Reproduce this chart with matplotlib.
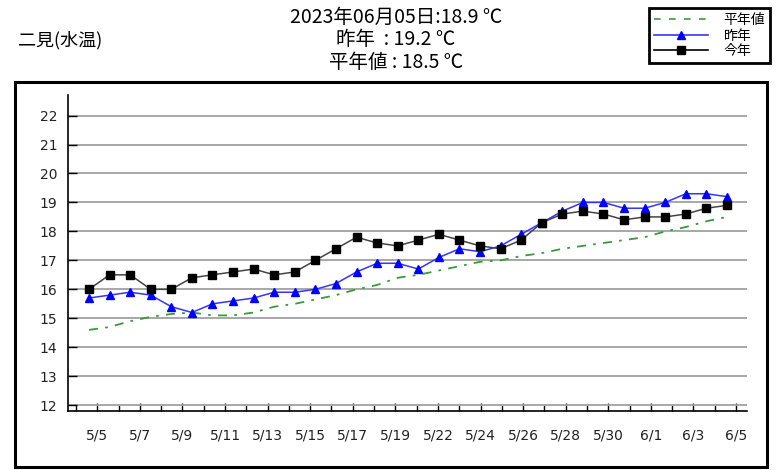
import matplotlib
matplotlib.use('Agg')
import matplotlib.pyplot as plt
from matplotlib.lines import Line2D
from matplotlib.patches import Rectangle
import numpy as np

plt.rcParams['font.family'] = ['Noto Sans CJK JP', 'DejaVu Sans']

# daily water temperature, 5/5 .. 6/5
this_year = [16.0, 16.5, 16.5, 16.0, 16.0, 16.4, 16.5, 16.6, 16.7, 16.5, 16.6,
             17.0, 17.4, 17.8, 17.6, 17.5, 17.7, 17.9, 17.7, 17.5, 17.4, 17.7,
             18.3, 18.6, 18.7, 18.6, 18.4, 18.5, 18.5, 18.6, 18.8, 18.9]
last_year = [15.7, 15.8, 15.9, 15.8, 15.4, 15.2, 15.5, 15.6, 15.7, 15.9, 15.9,
             16.0, 16.2, 16.6, 16.9, 16.9, 16.7, 17.1, 17.4, 17.3, 17.5, 17.9,
             18.3, 18.7, 19.0, 19.0, 18.8, 18.8, 19.0, 19.3, 19.3, 19.2]
normal = [14.6, 14.7, 14.9, 15.05, 15.15, 15.2, 15.1, 15.1, 15.2, 15.4, 15.5,
          15.65, 15.8, 16.0, 16.15, 16.4, 16.5, 16.65, 16.8, 16.95, 17.0, 17.15,
          17.25, 17.4, 17.5, 17.6, 17.7, 17.8, 18.0, 18.15, 18.35, 18.5]
tick_labels = ["5/5", "5/7", "5/9", "5/11", "5/13", "5/15", "5/17", "5/19",
               "5/22", "5/24", "5/26", "5/28", "5/30", "6/1", "6/3", "6/5"]
y_ticks = list(range(12, 23))

fig = plt.figure(figsize=(7.78, 4.70), dpi=100)
ax = fig.add_axes([0.0878, 0.1262, 0.872, 0.6717])

x = np.arange(len(this_year))
ax.plot(x, normal, color='#3a9a3a', lw=1.3, dashes=(5, 4, 1.5, 4), zorder=3)
ax.plot(x, last_year, color='#3535ff', lw=1.1, marker='^', ms=6,
        mfc='#0000ff', mec='#0000ff', zorder=4)
ax.plot(x, this_year, color='#444444', lw=1.1, marker='s', ms=5.6,
        mfc='black', mec='black', zorder=5)

ax.set_xlim(-1.006, 31.96)
ax.set_ylim(11.81, 22.71)

# tick positions on the date axis are spaced slightly wider than the points
ticks = np.linspace(-0.632, 31.44, 32)
ax.set_xticks(ticks[1::2])
ax.set_xticklabels(tick_labels)
ax.set_xticks(ticks[0::2], minor=True)
ax.tick_params(axis='x', which='major', direction='in', length=6, width=1,
               pad=13, labelsize=10, labelcolor='#222222')
ax.tick_params(axis='x', which='minor', direction='in', length=4.3, width=1)
for lab in ax.get_xticklabels():
    lab.set_family('DejaVu Sans')

ax.set_yticks(y_ticks)
ax.set_yticklabels([str(v) for v in y_ticks])
ax.tick_params(axis='y', direction='in', length=6.5, width=1, pad=8,
               labelsize=10, labelcolor='#222222')
for lab in ax.get_yticklabels():
    lab.set_family('DejaVu Sans')

ax.grid(axis='y', color='#a0a0a0', lw=1.3)
ax.set_axisbelow(True)
for side in ['top', 'right']:
    ax.spines[side].set_visible(False)
for side in ['left', 'bottom']:
    ax.spines[side].set_linewidth(1.2)

# outer frame
fig.patches.append(Rectangle((0.0189, 0.0064), 0.967, 0.8198, transform=fig.transFigure,
                             fill=False, edgecolor='black', lw=2.2))

fig.text(0.023, 0.915, "二見(水温)", ha='left', va='center', fontsize=13)
fig.text(0.509, 0.9638, "2023年06月05日:18.9 ℃", ha='center', va='center', fontsize=14)
fig.text(0.509, 0.9149, "昨年  : 19.2 ℃", ha='center', va='center', fontsize=14)
fig.text(0.509, 0.866, "平年値 : 18.5 ℃", ha='center', va='center', fontsize=14)

handles = [
    Line2D([], [], color='#3a9a3a', lw=1.2, dashes=(4, 5)),
    Line2D([], [], color='#3535ff', lw=1.2, marker='^', ms=6, mfc='#0000ff', mec='#0000ff'),
    Line2D([], [], color='black', lw=1.2, marker='s', ms=6, mfc='black', mec='black'),
]
leg = fig.legend(handles, ["平年値", "昨年", "今年"], loc='upper right',
                 bbox_to_anchor=(770 / 778, 1 - 8 / 470), fontsize=10,
                 fancybox=False, edgecolor='black', framealpha=1,
                 handlelength=3.9, labelspacing=0.12, borderpad=0.35,
                 handletextpad=1.1, borderaxespad=0)
leg.get_frame().set_linewidth(2)

plt.savefig("out.png", dpi=100)
